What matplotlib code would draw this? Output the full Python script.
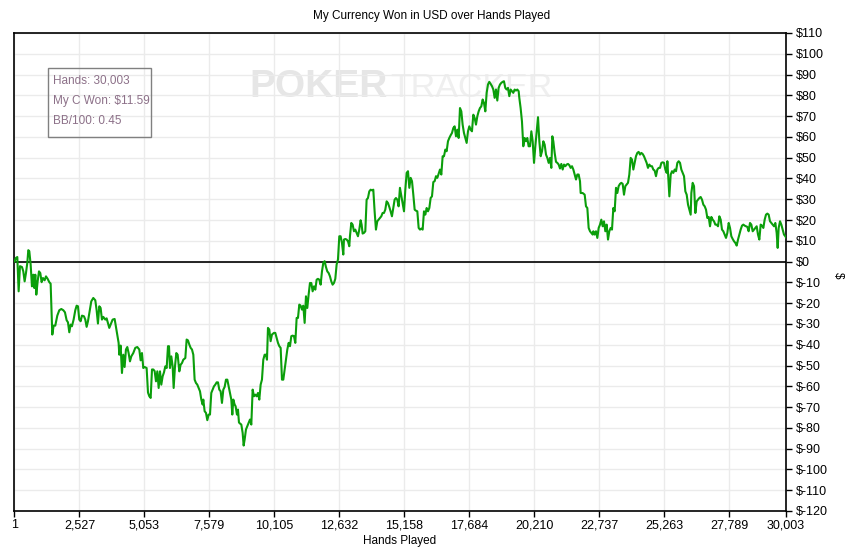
import matplotlib
matplotlib.use("Agg")
import matplotlib.pyplot as plt
from matplotlib.patches import Rectangle
import numpy as np

plt.rcParams['font.family'] = ['Liberation Sans', 'DejaVu Sans']

# ---- data: cumulative winnings ($) vs hands played ----
hands_a = [1, 58, 110, 162, 214, 292, 343, 395, 447, 499, 538, 577, 629, 680, 732, 771, 810, 849, 901, 953,
           1004, 1056, 1108, 1173, 1225, 1290, 1354, 1406, 1471, 1523, 1587, 1665, 1743, 1821, 1899, 1963,
           2028, 2080, 2132, 2184, 2235, 2300, 2365, 2417, 2469, 2520, 2572, 2624, 2702, 2754, 2806, 2858,
           2922, 2987, 3065, 3143, 3195, 3246, 3298, 3350, 3402, 3454, 3532, 3584, 3635, 3687, 3739, 3817,
           3895, 3946, 3998, 4050, 4076, 4128, 4180, 4232, 4283, 4335, 4387, 4439, 4491, 4543, 4620, 4698,
           4776, 4854, 4906, 4958, 5009, 5061, 5139]
won_a = [0.0, 1.8, 2.2, -14.3, -2.2, -2.6, -4.7, -9.5, -5.5, -0.6, 5.5, 5.0, -1.4, -11.9, -6.3, -12.7, -6.3,
         -15.9, -9.5, -4.7, -5.5, -9.9, -7.9, -9.0, -7.1, -8.3, -9.9, -10.6, -35.1, -30.8, -30.8, -26.0,
         -23.4, -22.8, -23.4, -24.4, -28.2, -29.2, -34.0, -30.3, -31.1, -27.9, -23.4, -21.2, -21.5, -27.9,
         -28.7, -26.0, -26.3, -27.9, -31.4, -28.7, -23.9, -19.1, -17.5, -18.6, -23.4, -29.8, -21.5, -22.3,
         -27.9, -26.6, -27.9, -27.3, -29.5, -31.9, -30.3, -27.9, -27.6, -31.4, -35.1, -39.1, -44.8, -40.4,
         -53.6, -44.8, -50.7, -42.3, -41.1, -44.0, -48.0, -45.6, -44.0, -41.5, -41.1, -42.3, -47.5, -44.0,
         -51.2, -50.7, -51.2]

hands_b = [5192, 5244, 5296, 5348, 5400, 5451, 5503, 5555, 5607, 5659, 5710, 5762, 5814, 5866, 5918, 5970,
           6009, 6047, 6099, 6151, 6190, 6242, 6294, 6346, 6410, 6462, 6514, 6566, 6644, 6695, 6747, 6799,
           6851, 6903, 6955, 7006, 7058, 7110, 7162, 7214, 7266, 7318, 7343, 7395, 7447, 7499, 7551, 7603,
           7654, 7706, 7758, 7810, 7862, 7914, 7965, 8017, 8069, 8121, 8173, 8225, 8277, 8329, 8380, 8432,
           8471, 8510, 8562, 8600, 8652, 8691, 8730, 8769, 8821, 8873, 8912, 8950, 9002, 9054, 9106, 9158,
           9210, 9262, 9313, 9365, 9417, 9469, 9521, 9573, 9624, 9676, 9728, 9780, 9819, 9858, 9910, 9961,
           10013, 10091, 10143]
won_b = [-63.0, -64.8, -65.6, -51.9, -51.9, -52.7, -57.6, -52.8, -60.8, -52.8, -59.2, -55.2, -53.3, -50.4,
         -51.2, -40.7, -40.7, -51.2, -45.6, -50.4, -60.8, -50.4, -44.0, -44.8, -52.8, -49.6, -48.8, -47.2,
         -46.4, -37.5, -37.9, -39.9, -41.5, -42.3, -44.8, -56.8, -58.4, -59.2, -60.8, -62.4, -66.4, -68.8,
         -66.4, -72.0, -72.8, -76.3, -73.6, -73.6, -63.2, -61.6, -60.0, -59.2, -58.1, -58.1, -61.6, -62.4,
         -68.0, -61.6, -60.3, -56.8, -56.8, -60.0, -63.2, -66.4, -73.6, -66.4, -68.8, -69.6, -73.6, -71.2,
         -77.4, -77.9, -78.4, -82.4, -88.5, -85.7, -80.8, -79.2, -77.6, -76.0, -78.4, -61.6, -64.8, -64.0,
         -64.8, -63.2, -66.4, -59.2, -56.8, -47.2, -44.8, -44.8, -47.2, -31.9, -32.7, -38.3, -35.1, -34.3,
         -34.3]

hands_c = [10247, 10299, 10351, 10403, 10454, 10506, 10558, 10610, 10662, 10714, 10765, 10817, 10869, 10921,
           10973, 11025, 11076, 11128, 11180, 11232, 11284, 11336, 11387, 11439, 11491, 11543, 11595, 11647,
           11699, 11750, 11802, 11854, 11906, 11958, 12010, 12061, 12113, 12165, 12217, 12269, 12320, 12372,
           12424, 12476, 12528, 12580, 12632, 12683, 12735, 12787, 12813, 12865, 12917, 12969, 13020, 13046,
           13098, 13150, 13202, 13254, 13306, 13357, 13409, 13461, 13500, 13539, 13591, 13643, 13694, 13746,
           13798, 13850, 13902, 13954, 14005, 14057, 14109, 14161, 14213, 14265, 14316, 14368, 14420, 14472,
           14524, 14576, 14627, 14679, 14731, 14783, 14835, 14887, 14938, 14990]
won_c = [-39.1, -40.7, -41.5, -56.8, -56.8, -52.0, -47.2, -42.3, -39.1, -40.7, -35.9, -35.6, -35.9, -39.1,
         -27.1, -27.1, -20.7, -21.2, -23.1, -21.2, -29.5, -16.7, -22.3, -15.9, -10.3, -10.3, -14.3, -11.9,
         -13.5, -8.7, -8.3, -8.7, -11.1, -4.7, -0.6, 0.2, -2.6, -4.7, -5.5, -7.1, -9.5, -11.1, -10.3, -8.3,
         -1.4, 1.0, 12.2, 12.2, 9.0, 3.4, 10.6, 10.9, 10.6, 9.8, 7.4, 12.2, 18.6, 17.8, 14.6, 15.4, 13.8,
         12.2, 15.4, 19.9, 17.8, 13.5, 13.8, 14.6, 29.8, 30.6, 33.8, 34.6, 34.3, 34.6, 24.2, 15.4, 19.4,
         20.2, 21.0, 21.8, 23.4, 23.4, 25.0, 29.0, 28.2, 26.3, 24.2, 21.8, 25.8, 29.8, 30.6, 29.8, 26.6, 35.5]

hands_d = [15148, 15199, 15251, 15303, 15355, 15407, 15459, 15510, 15562, 15614, 15666, 15718, 15770, 15821,
           15873, 15925, 15977, 16029, 16081, 16133, 16184, 16236, 16288, 16340, 16392, 16444, 16495, 16547,
           16599, 16651, 16703, 16755, 16806, 16858, 16910, 16962, 17014, 17066, 17117, 17169, 17221, 17273,
           17325, 17377, 17428, 17480, 17532, 17584, 17636, 17688, 17739, 17791, 17843, 17895, 17947, 17999,
           18051, 18102, 18154, 18206, 18258, 18310, 18362, 18413, 18465, 18517, 18569, 18621, 18673, 18725,
           18776, 18828, 18880, 18932, 18984, 19035, 19087, 19139, 19191, 19243, 19295, 19347, 19398, 19450,
           19502, 19554, 19606, 19632, 19683, 19735, 19787, 19839, 19891, 19943, 19994]
won_d = [24.2, 34.6, 42.7, 43.5, 35.5, 40.3, 38.7, 32.2, 25.0, 24.5, 24.2, 16.2, 15.4, 15.9, 15.4, 24.2,
         22.6, 25.8, 24.2, 25.8, 30.6, 31.4, 38.3, 38.7, 41.1, 40.3, 42.2, 44.3, 41.9, 50.7, 50.7, 53.9,
         53.1, 57.9, 59.5, 60.8, 61.9, 64.3, 65.1, 60.3, 63.5, 59.5, 73.9, 72.3, 65.9, 61.9, 59.5, 57.1,
         62.7, 65.1, 63.5, 62.7, 70.7, 69.1, 65.9, 69.9, 72.3, 73.9, 74.7, 78.0, 76.3, 72.3, 81.2, 85.2,
         86.5, 85.5, 84.4, 82.8, 78.8, 82.8, 77.5, 83.6, 85.2, 86.0, 86.5, 86.8, 83.6, 82.8, 83.6, 79.6,
         82.8, 82.0, 81.2, 82.8, 82.3, 82.8, 82.0, 78.8, 73.9, 67.5, 55.5, 59.5, 57.9, 59.5, 55.5]

hands_e = [20048, 20100, 20152, 20204, 20255, 20307, 20359, 20411, 20463, 20515, 20566, 20618, 20670, 20722,
           20774, 20826, 20877, 20916, 20955, 21007, 21059, 21111, 21163, 21214, 21266, 21318, 21370, 21422,
           21474, 21525, 21577, 21629, 21681, 21733, 21785, 21837, 21888, 21940, 21992, 22018, 22096, 22174,
           22225, 22277, 22329, 22381, 22433, 22485, 22511, 22562, 22614, 22666, 22718, 22770, 22821, 22873,
           22925, 22977, 23029, 23081, 23132, 23184, 23236, 23288, 23340, 23392, 23444, 23495, 23547, 23599,
           23651, 23703, 23755, 23806, 23858, 23910, 23962, 24014, 24066, 24117, 24169, 24221, 24273, 24325,
           24377, 24428, 24480, 24532, 24584, 24636, 24688, 24740, 24791, 24843, 24895, 24947, 24999, 25051]
won_e = [55.5, 62.7, 57.9, 47.5, 55.5, 62.7, 69.5, 57.9, 50.7, 53.1, 57.9, 56.3, 51.5, 49.9, 47.5, 49.9,
         45.1, 60.3, 57.9, 52.3, 48.0, 47.5, 46.7, 44.8, 47.0, 44.3, 46.7, 45.9, 46.7, 47.0, 46.4, 45.1,
         45.9, 44.3, 41.9, 39.5, 41.9, 41.9, 38.7, 33.0, 33.0, 32.2, 26.6, 25.8, 16.2, 14.6, 13.8, 13.0,
         14.6, 13.0, 14.6, 11.4, 16.2, 17.8, 20.2, 17.0, 19.4, 14.6, 17.8, 10.6, 14.6, 16.2, 15.4, 25.8,
         24.2, 35.5, 33.0, 36.3, 37.4, 37.9, 37.4, 32.2, 36.3, 37.1, 37.9, 41.9, 49.9, 49.1, 44.3, 47.5,
         50.7, 52.3, 52.8, 51.5, 52.3, 51.8, 50.7, 49.1, 47.5, 45.1, 46.7, 45.9, 45.9, 44.3, 43.8, 41.1,
         44.3, 45.1]

hands_f = [25104, 25156, 25208, 25260, 25311, 25363, 25389, 25415, 25467, 25519, 25571, 25622, 25674, 25726,
           25778, 25830, 25882, 25933, 25985, 26037, 26089, 26141, 26193, 26244, 26296, 26322, 26374, 26426,
           26478, 26530, 26581, 26633, 26685, 26737, 26789, 26841, 26892, 26944, 26996, 27048, 27100, 27152,
           27204, 27255, 27307, 27359, 27411, 27463, 27514, 27566, 27618, 27670, 27722, 27774, 27826, 27877,
           27929, 27981, 28033, 28085, 28137, 28188, 28240, 28292, 28344, 28396, 28448, 28500, 28551, 28603,
           28655, 28707, 28759, 28811, 28863, 28914, 28966, 29018, 29070, 29122, 29174, 29225, 29277, 29329,
           29381, 29433, 29485, 29537, 29588, 29640, 29679, 29718, 29770, 29822, 29873, 29925, 29977, 30003]
won_f = [45.1, 47.5, 47.8, 47.5, 44.3, 42.7, 48.3, 42.7, 31.4, 41.9, 43.5, 42.7, 44.3, 43.5, 47.5, 48.3,
         47.5, 44.3, 42.7, 41.1, 33.8, 32.2, 27.4, 25.0, 22.6, 33.0, 37.9, 36.3, 23.4, 29.0, 29.8, 30.6,
         31.1, 29.8, 27.4, 26.6, 25.0, 21.0, 21.5, 17.0, 21.5, 20.2, 19.4, 17.8, 17.8, 17.0, 21.8, 20.2,
         15.4, 14.6, 13.0, 11.4, 13.8, 18.6, 16.2, 12.2, 10.9, 9.8, 9.0, 7.7, 10.6, 13.0, 15.4, 17.3, 17.8,
         17.3, 17.0, 16.7, 14.6, 18.6, 17.8, 14.6, 15.4, 16.2, 17.0, 13.0, 10.6, 17.8, 17.3, 16.2, 20.2,
         22.6, 23.1, 22.6, 19.4, 18.6, 17.8, 17.0, 18.6, 13.8, 6.6, 16.2, 19.4, 17.8, 15.4, 13.0, 12.2, 11.59]

x_ticks = [1, 2527, 5053, 7579, 10105, 12632, 15158, 17684, 20210, 22737, 25263, 27789, 30003]
y_ticks = list(range(-120, 111, 10))

title = "My Currency Won in USD over Hands Played"
legend_lines = ["Hands: 30,003", "My C Won: $11.59", "BB/100: 0.45"]

hands = np.array(hands_a + hands_b + hands_c + hands_d + hands_e + hands_f)
won = np.array(won_a + won_b + won_c + won_d + won_e + won_f)

# ---- figure ----
W, H = 853, 551
fig = plt.figure(figsize=(W / 100, H / 100), dpi=100)
ax = fig.add_axes([14.5 / W, 1 - 511 / H, (786 - 14.5) / W, (511 - 33) / H])

ax.set_xlim(1, 30003)
ax.set_ylim(-120, 110)

ax.set_xticks(x_ticks)
ax.set_xticklabels([f"{t:,}" for t in x_ticks])
ax.set_yticks(y_ticks)
ax.set_yticklabels([f"${t}" for t in y_ticks])
ax.yaxis.tick_right()
ax.tick_params(axis='both', direction='out', length=4, width=1, colors='black', labelsize=9)
ax.tick_params(axis='y', pad=3)
ax.tick_params(axis='x', pad=2)

ax.grid(True, color='#ebebeb', linewidth=1, zorder=0)
ax.set_axisbelow(True)
for s in ax.spines.values():
    s.set_color('black')
    s.set_linewidth(1.2)

# watermark
ax.text(0.305, 0.866, "POKER", transform=ax.transAxes, fontsize=28, fontweight='bold',
        color='#e6e6e6', ha='left', va='baseline', zorder=0.5)
ax.text(0.487, 0.866, "TRACKER", transform=ax.transAxes, fontsize=24.5,
        color='#efefef', ha='left', va='baseline', zorder=0.5)

ax.axhline(0, color='black', linewidth=1.2, zorder=2)
ax.plot(hands, won, color='#0b9e0b', linewidth=1.5, zorder=3, solid_joinstyle='round')

# info box
ax.add_patch(Rectangle((0.0434, 0.7824), 0.1336, 0.1444, transform=ax.transAxes,
                       fill=False, edgecolor='#808080', linewidth=1, zorder=4))
for i, line in enumerate(legend_lines):
    ax.text(0.0505, 0.8996 - i * 0.0419, line, transform=ax.transAxes, fontsize=8.5,
            color='#8c7088', ha='left', va='center', zorder=5)

fig.text(432 / W, 1 - 16 / H, title, ha='center', va='center', fontsize=8.5)
fig.text(400 / W, 1 - 541 / H, "Hands Played", ha='center', va='center', fontsize=8.5)
fig.text(838 / W, 1 - 275 / H, "$", ha='center', va='center', fontsize=8.5, rotation=270)

fig.savefig("out.png", dpi=100)
